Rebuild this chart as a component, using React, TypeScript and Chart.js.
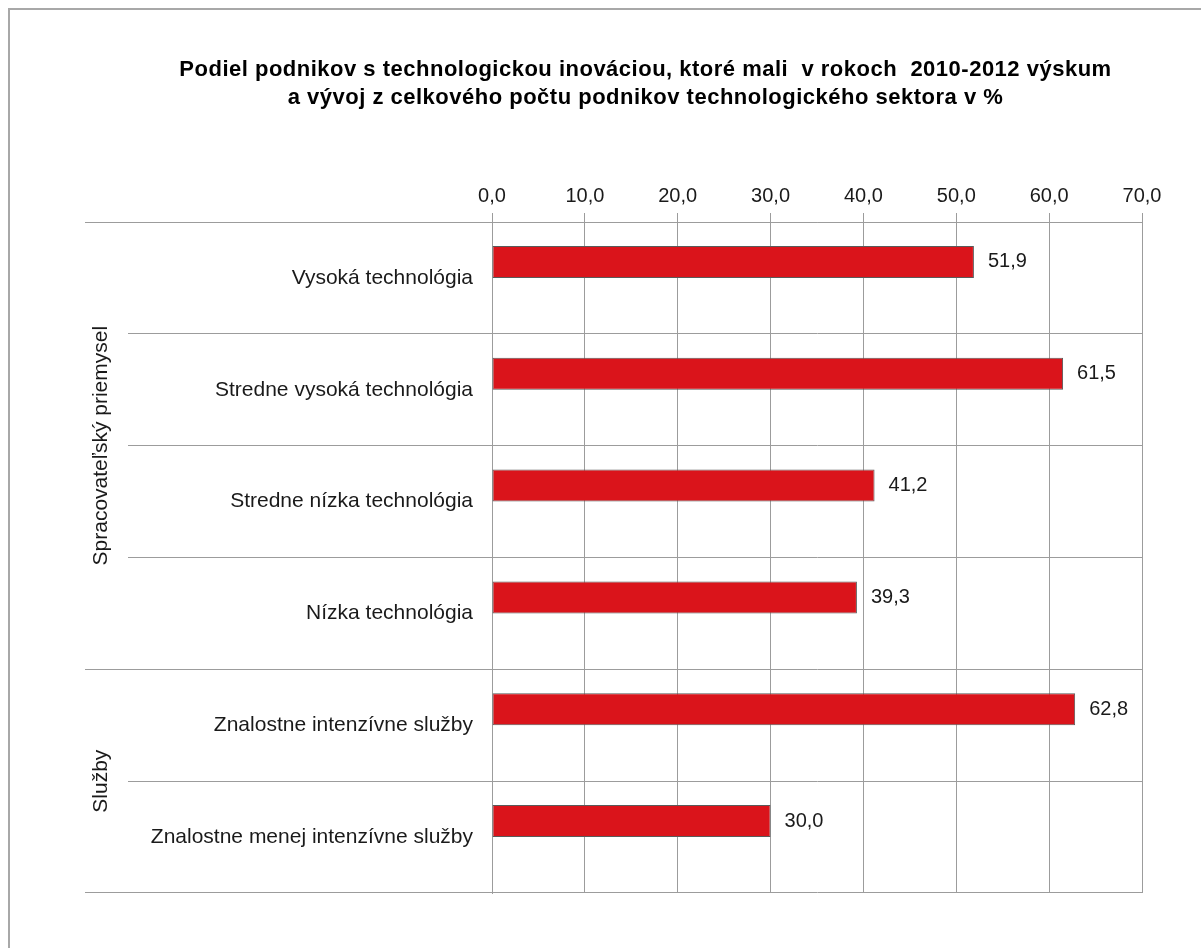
import React, { useEffect, useRef } from 'react';
import { Chart, registerables } from 'chart.js';

Chart.register(...registerables);

const categories = [
  'Vysoká technológia',
  'Stredne vysoká technológia',
  'Stredne nízka technológia',
  'Nízka technológia',
  'Znalostne intenzívne služby',
  'Znalostne menej intenzívne služby',
];
const values = [51.9, 61.5, 41.2, 39.3, 62.8, 30.0];

const groupLabels = ['Spracovateľský priemysel', 'Služby'];
const groupStarts = [0, 4];
const groupEnds = [3, 5];

const titleLines = [
  'Podiel podnikov s technologickou inováciou, ktoré mali  v rokoch  2010-2012 výskum',
  'a vývoj z celkového počtu podnikov technologického sektora v %',
];

const xMin = 0;
const xMax = 70;
const xStep = 10;

const FONT = "'Liberation Sans', Arial, sans-serif";
const GRID = '#9c9c9c';
const TEXT = '#1a1a1a';

const fmt = (v: number) => Number(v).toFixed(1).replace('.', ',');

const align = (p: number) => Math.round(p - 0.5) + 0.5;

// same computation Chart.js uses for offset grid lines
const boundaryPixel = (scale: any, index: number) => {
  const length = scale.ticks.length;
  const validIndex = Math.min(index, length - 1);
  let lineValue = scale.getPixelForTick(validIndex);
  let offset: number;
  if (index === 0) offset = (scale.getPixelForTick(1) - lineValue) / 2;
  else offset = (lineValue - scale.getPixelForTick(index - 1 < 0 ? 0 : Math.min(index, length - 1) - 1)) / 2;
  lineValue += validIndex < index ? offset : -offset;
  return lineValue;
};

const decoPlugin = {
  id: 'deco',
  beforeDraw(chart: any) {
    const ctx = chart.ctx;
    ctx.save();
    // outer frame
    ctx.fillStyle = '#a8a8a8';
    ctx.fillRect(8, 8, chart.width - 8, 2);
    ctx.fillRect(8, 8, 2, chart.height - 8);
    // title
    ctx.fillStyle = '#000';
    ctx.font = `bold 22px ${FONT}`;
    (ctx as any).letterSpacing = '0.5px';
    ctx.textAlign = 'left';
    ctx.textBaseline = 'alphabetic';
    titleLines.forEach((line, i) => {
      const w = ctx.measureText(line).width;
      ctx.fillText(line, 645.5 - w / 2, 76 + i * 28);
    });
    (ctx as any).letterSpacing = '0px';
    ctx.restore();
  },
  afterDatasetsDraw(chart: any) {
    const ctx = chart.ctx;
    const meta = chart.getDatasetMeta(0);
    ctx.save();
    ctx.fillStyle = TEXT;
    ctx.font = `20px ${FONT}`;
    ctx.textAlign = 'left';
    ctx.textBaseline = 'middle';
    meta.data.forEach((bar: any, i: number) => {
      ctx.fillText(fmt(values[i]), bar.x + 14, bar.y);
    });
    ctx.restore();
  },
  afterDraw(chart: any) {
    const ctx = chart.ctx;
    const y = chart.scales.y;
    const area = chart.chartArea;
    const n = categories.length;
    ctx.save();
    ctx.strokeStyle = GRID;
    ctx.lineWidth = 1;
    for (let i = 0; i <= n; i++) {
      const py = boundaryPixel(y, i);
      const isGroup = i === 0 || i === n || groupStarts.includes(i);
      const sx = isGroup ? 85 : 128;
      ctx.beginPath();
      ctx.moveTo(sx, align(py));
      ctx.lineTo(area.left, align(py));
      ctx.stroke();
    }
    // group labels
    ctx.fillStyle = TEXT;
    ctx.font = `21px ${FONT}`;
    ctx.textAlign = 'center';
    ctx.textBaseline = 'middle';
    groupLabels.forEach((label, g) => {
      const cy = (y.getPixelForValue(groupStarts[g]) + y.getPixelForValue(groupEnds[g])) / 2;
      ctx.save();
      ctx.translate(101, cy);
      ctx.rotate(-Math.PI / 2);
      ctx.fillText(label, 0, 0);
      ctx.restore();
    });
    ctx.restore();
  },
};

export default function App() {
  const ref = useRef<HTMLCanvasElement | null>(null);

  useEffect(() => {
    if (!ref.current) return;
    const chart = new Chart(ref.current, {
      type: 'bar',
      data: {
        labels: categories,
        datasets: [
          {
            label: 'Podiel',
            data: values,
            backgroundColor: '#da141b',
            borderColor: '#5a5a5a',
            borderWidth: 1,
            borderSkipped: false,
            categoryPercentage: 0.573,
            barPercentage: 1,
          },
          {
            label: '',
            data: [],
            backgroundColor: 'rgba(0,0,0,0)',
            categoryPercentage: 0.573,
            barPercentage: 1,
          },
        ],
      },
      options: {
        indexAxis: 'y',
        responsive: false,
        animation: false,
        devicePixelRatio: 1,
        layout: { padding: { left: 0, top: 0, right: 59, bottom: 55 } },
        plugins: {
          legend: { display: false },
          tooltip: { enabled: false },
          title: { display: false },
        },
        scales: {
          x: {
            position: 'top',
            min: xMin,
            max: xMax,
            ticks: {
              stepSize: xStep,
              callback: (v: any) => fmt(v),
              font: { family: FONT, size: 20 },
              color: TEXT,
              padding: 5,
            },
            grid: { color: GRID, lineWidth: 1, tickLength: 9, drawTicks: true },
            border: { color: GRID, width: 1 },
            afterFit: (s: any) => {
              s.height = 222;
            },
          },
          y: {
            type: 'category',
            offset: true,
            grid: { offset: true, color: GRID, lineWidth: 1, drawTicks: false },
            border: { color: GRID, width: 1 },
            ticks: {
              font: { family: FONT, size: 21 },
              color: TEXT,
              padding: 19,
              autoSkip: false,
            },
            afterFit: (s: any) => {
              s.width = 492;
            },
          },
        },
      } as any,
      plugins: [decoPlugin],
    });
    return () => chart.destroy();
  }, []);

  return (
    <div style={{ position: 'absolute', left: 0, top: 0, width: 1201, height: 948, background: '#fff' }}>
      <canvas ref={ref} width={1201} height={948} style={{ display: 'block' }} />
    </div>
  );
}
